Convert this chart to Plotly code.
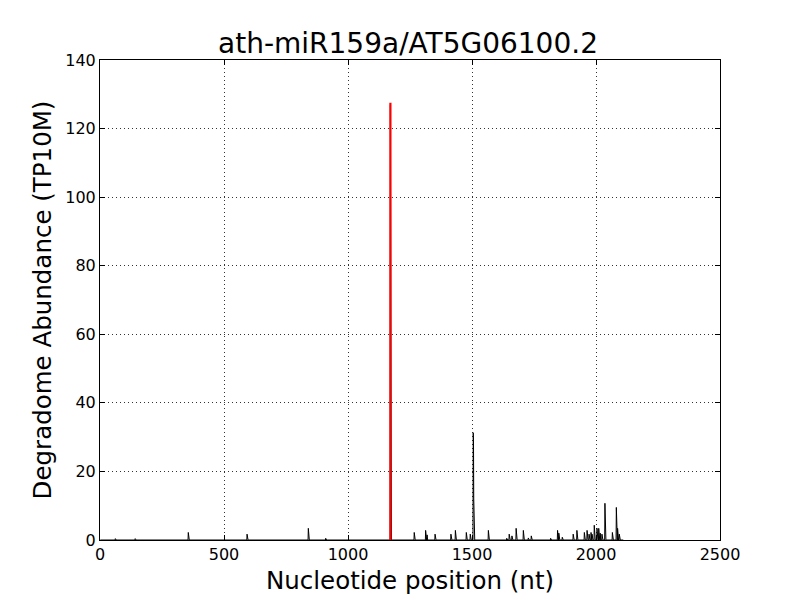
import numpy as np
import plotly.graph_objects as go

title = "ath-miR159a/AT5G06100.2"
transcript_length = 2110

# degradome tags: position (nt) and abundance (TP10M)
tag_positions = [62, 142, 356, 593, 840, 910, 1171, 1267, 1313, 1319, 1351, 1415, 1433,
                 1477, 1493, 1505, 1506, 1507, 1566, 1640, 1650, 1661, 1678, 1707, 1727,
                 1739, 1817, 1845, 1850, 1864, 1908, 1923, 1953, 1964, 1972, 1980, 1984,
                 1993, 2004, 2011, 2017, 2024, 2036, 2066, 2082, 2087, 2094]
tag_abundance = [0.4, 0.4, 2.2, 1.7, 3.4, 0.5, 127.0, 2.2, 2.8, 1.5, 1.7, 1.7, 2.8,
                 2.2, 1.7, 31.3, 28.9, 12.0, 2.8, 0.5, 1.7, 1.2, 3.4, 2.8, 0.6,
                 1.2, 0.5, 2.8, 2.0, 0.8, 1.7, 2.8, 2.2, 2.8, 1.7, 2.2, 1.7,
                 4.3, 3.4, 3.4, 2.0, 1.7, 10.7, 2.2, 9.5, 3.4, 1.7]

cleavage_site = 1171
cleavage_abundance = 127.5

x_ticks = [0, 500, 1000, 1500, 2000, 2500]
y_ticks = [0, 20, 40, 60, 80, 100, 120, 140]

positions = np.arange(1, transcript_length + 1)
profile = np.zeros(transcript_length)
for p, v in zip(tag_positions, tag_abundance):
    profile[p - 1] = v

fig = go.Figure()
fig.add_trace(go.Scatter(x=positions, y=profile, mode="lines",
                         line=dict(color="black", width=1), hoverinfo="skip"))
fig.add_trace(go.Scatter(x=[cleavage_site, cleavage_site], y=[0, cleavage_abundance],
                         mode="lines", line=dict(color="red", width=2.2)))

axis_common = dict(
    showline=True, linecolor="black", linewidth=1, mirror="ticks",
    ticks="inside", ticklen=5, tickcolor="black",
    showgrid=True, gridcolor="#333333", griddash="1px,3px", gridwidth=1,
    zeroline=False, tickfont=dict(size=16, color="black"),
)

fig.update_layout(
    width=800, height=600,
    paper_bgcolor="white", plot_bgcolor="white",
    font=dict(family="DejaVu Sans", color="black"),
    showlegend=False,
    margin=dict(l=92, r=88, t=52, b=68),
    title=dict(text=title, x=0.5, xanchor="center", y=0.925, yanchor="bottom",
               font=dict(size=28, color="black")),
    xaxis=dict(range=[0, 2500], tickvals=x_ticks,
               title=dict(text="Nucleotide position (nt)", font=dict(size=24.5), standoff=8),
               **axis_common),
    yaxis=dict(range=[0, 140], tickvals=y_ticks,
               title=dict(text="Degradome Abundance (TP10M)", font=dict(size=24.5), standoff=6),
               **axis_common),
)

fig.write_html("out.html")
